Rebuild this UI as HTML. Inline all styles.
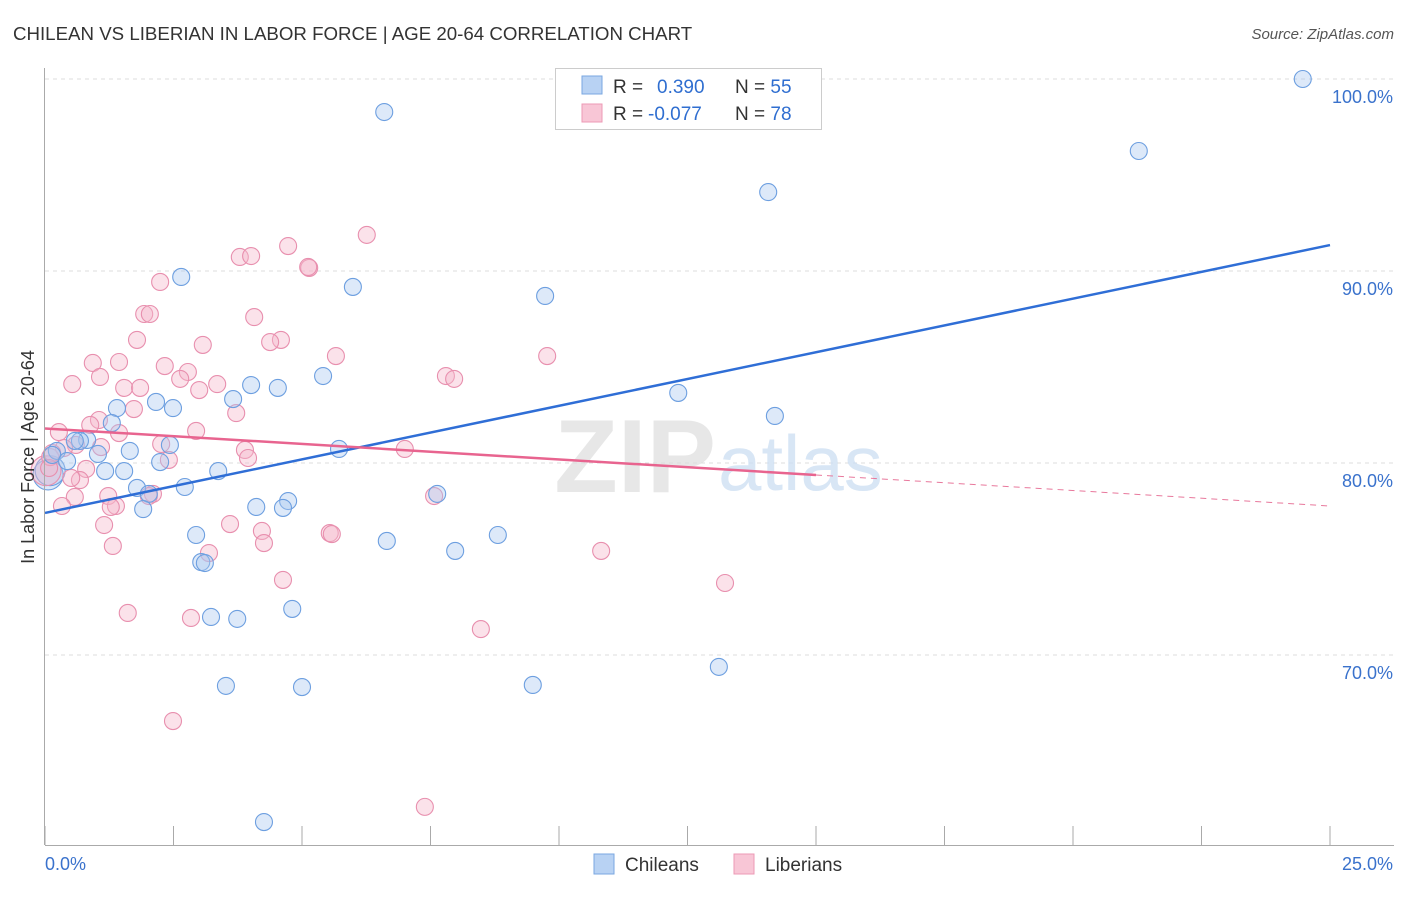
<!DOCTYPE html>
<html><head><meta charset="utf-8"><style>
body{margin:0;background:#fff;font-family:"Liberation Sans",sans-serif}
svg text{font-family:"Liberation Sans",sans-serif}
</style></head><body>
<svg id="chart" width="1406" height="892">
<text x="13" y="40" font-size="18.7" fill="#333">CHILEAN VS LIBERIAN IN LABOR FORCE | AGE 20-64 CORRELATION CHART</text>
<text x="1394" y="39" font-size="15" fill="#555" font-style="italic" text-anchor="end">Source: ZipAtlas.com</text>
<g id="grid"></g>
<text x="716" y="492" font-size="104" font-weight="bold" fill="#ddd" text-anchor="end" font-family="Liberation Serif" opacity="0.7">ZIP</text>
<text x="718" y="490" font-size="78" fill="#cfe0f3" opacity="0.8">atlas</text>
<g id="points"></g>
<g id="lines"></g>
<g id="axes"></g>
<text transform="translate(34,457) rotate(-90)" font-size="18" fill="#333" text-anchor="middle">In Labor Force | Age 20-64</text>
<g>
<rect x="555.5" y="68.5" width="266" height="61" fill="#fff" stroke="#ccc"/>
<rect x="582" y="76" width="20" height="18" fill="#b8d2f3" stroke="#7aa7e0"/>
<rect x="582" y="104" width="20" height="18" fill="#f8c6d6" stroke="#ec9ab5"/>
<text x="613" y="93" font-size="19" fill="#333">R = <tspan x="657" fill="#2f6ed0">0.390</tspan><tspan x="735">N = </tspan><tspan fill="#2f6ed0">55</tspan></text>
<text x="613" y="120" font-size="19" fill="#333">R = <tspan x="648" fill="#2f6ed0">-0.077</tspan><tspan x="735">N = </tspan><tspan fill="#2f6ed0">78</tspan></text>
</g>
<g>
<rect x="594" y="854" width="20" height="20" fill="#b8d2f3" stroke="#7aa7e0"/>
<text x="625" y="871" font-size="19" fill="#333">Chileans</text>
<rect x="734" y="854" width="20" height="20" fill="#f8c6d6" stroke="#ec9ab5"/>
<text x="765" y="871" font-size="19" fill="#333">Liberians</text>
</g>
</svg>
<script>
const yTicks=[100,90,80,70];
const yTickLabels=["100.0%","90.0%","80.0%","70.0%"];
const xTickLabels=["0.0%","25.0%"];
const blueX=[24.47,6.60,21.28,14.07,2.65,5.99,9.73,5.41,4.01,4.53,12.32,3.66,2.16,2.49,1.40,14.20,1.30,2.43,0.82,0.68,0.58,5.72,1.65,1.03,0.23,0.14,0.43,2.24,1.17,1.54,3.37,1.79,2.72,2.02,7.63,4.73,4.11,4.63,1.91,2.94,6.65,8.81,7.98,3.04,3.11,4.81,3.23,3.74,13.11,3.52,5.00,9.49,4.26];
const blueY=[100,98.28,96.25,94.11,89.69,89.17,88.70,84.53,84.06,83.91,83.65,83.33,83.18,82.86,82.86,82.45,82.08,80.94,81.20,81.15,81.15,80.73,80.63,80.47,80.63,80.42,80.10,80.05,79.58,79.58,79.58,78.70,78.75,78.39,78.39,78.02,77.71,77.66,77.60,76.25,75.94,76.25,75.42,74.84,74.79,72.40,71.98,71.88,69.38,68.39,68.33,68.44,61.30];
const blueBigX=[0.06,0.1];const blueBigY=[79.38,79.6];
const pinkX=[6.26,4.73,3.79,4.01,5.14,5.12,2.24,1.93,2.04,4.07,1.79,4.59,4.38,3.07,5.66,9.77,0.93,1.44,2.33,2.78,1.07,2.63,7.80,7.96,0.53,1.54,1.85,3.35,3.00,3.72,1.73,1.05,0.88,1.44,0.27,2.94,2.26,3.89,1.09,0.60,0.37,0.10,0.14,2.41,3.95,7.00,0.80,0.08,0.68,0.51,1.23,0.58,2.10,2.02,7.57,0.33,1.38,1.28,1.15,3.60,4.22,5.54,5.58,4.26,1.32,3.19,10.82,4.63,13.23,1.61,2.84,8.48,2.49,7.39];
const pinkY=[91.88,91.30,90.73,90.78,90.16,90.21,89.43,87.76,87.76,87.60,86.41,86.41,86.30,86.15,85.57,85.57,85.21,85.26,85.05,84.74,84.48,84.38,84.53,84.38,84.11,83.91,83.91,84.11,83.80,82.60,82.81,82.24,81.98,81.56,81.61,81.67,80.99,80.68,80.83,80.94,80.78,80.31,80.52,80.16,80.26,80.73,79.69,79.74,79.11,79.22,78.28,78.23,78.39,78.28,78.28,77.76,77.76,77.71,76.77,76.82,76.46,76.35,76.30,75.83,75.68,75.31,75.42,73.91,73.75,72.19,71.93,71.35,66.56,62.09];
const pinkBigX=[0.02];const pinkBigY=[79.6];
const blueTrend=[77.4,91.35];
const pinkTrend=[81.8,77.76];
const NS="http://www.w3.org/2000/svg";
const X=v=>45+v*51.4, Y=v=>79+(100-v)*19.2;
function mk(tag,attrs,parent){const e=document.createElementNS(NS,tag);for(const k in attrs)e.setAttribute(k,attrs[k]);parent.appendChild(e);return e;}
const grid=document.getElementById('grid'),axes=document.getElementById('axes'),pts=document.getElementById('points'),lines=document.getElementById('lines');
yTicks.forEach((t,i)=>{
 const l=mk('line',{x1:45,x2:1394,y1:Y(t),y2:Y(t),stroke:'#ddd','stroke-dasharray':'4,4'},grid);
 
 
 const tx=mk('text',{x:1393,y:Y(t)+24,'font-size':18,fill:'#3a72cc','text-anchor':'end'},axes);
 tx.textContent=yTickLabels[i];
 
 
});
const ax=mk('line',{x1:44.5,x2:44.5,y1:68,y2:845,stroke:'#aaa'},axes);


const bx=mk('line',{x1:45,x2:1394,y1:845.5,y2:845.5,stroke:'#aaa'},axes);


for(let i=0;i<=10;i++){const t=mk('line',{x1:X(i*2.5),x2:X(i*2.5),y1:826,y2:845,stroke:'#aaa'},axes);
 
 }
[[0,'start',45],[25,'end',1393]].forEach((d,i)=>{const t=mk('text',{x:d[2],y:870,'font-size':18,fill:'#3a72cc','text-anchor':d[1]},axes);t.textContent=xTickLabels[i];
 
 });
function dots(xs,ys,r,fill,stroke,name){xs.forEach((x,i)=>{const c=mk('circle',{cx:X(x),cy:Y(ys[i]),r:r,fill:fill,'fill-opacity':0.4,stroke:stroke,'stroke-width':1.1},pts);
 
 });}
dots(blueBigX,blueBigY,15,'#a9c8f0','#6d9fe0','chilean-point');
dots(pinkBigX,pinkBigY,15,'#f4b6cb','#e88fae','liberian-point');
dots(pinkX,pinkY,8.5,'#f4b6cb','#e88fae','liberian-point');
dots(blueX,blueY,8.5,'#a9c8f0','#6d9fe0','chilean-point');
const bl=mk('line',{x1:X(0),y1:Y(blueTrend[0]),x2:X(25),y2:Y(blueTrend[1]),stroke:'#2f6ed6','stroke-width':2.5},lines);


const ym=pinkTrend[0]+(pinkTrend[1]-pinkTrend[0])*0.6;
const pl=mk('line',{x1:X(0),y1:Y(pinkTrend[0]),x2:X(15),y2:Y(ym),stroke:'#e8648f','stroke-width':2.5},lines);


const pd=mk('line',{x1:X(15),y1:Y(ym),x2:X(25),y2:Y(pinkTrend[1]),stroke:'#e8789c','stroke-width':1,'stroke-dasharray':'6,5'},lines);


</script>
</body></html>
